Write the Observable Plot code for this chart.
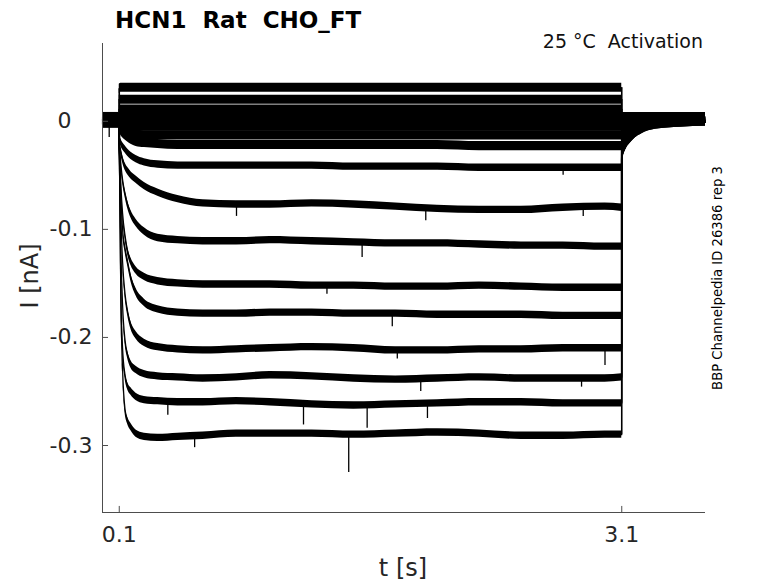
<!DOCTYPE html>
<html><head><meta charset="utf-8">
<script src="https://cdn.jsdelivr.net/npm/d3@7"></script>
<script src="https://cdn.jsdelivr.net/npm/@observablehq/plot@0.6"></script>
<style>html,body{margin:0;padding:0;background:#fff;overflow:hidden}</style>
</head><body><div id="chart"></div>
<script>
// ---------- data ----------
const traceNames = ["C1","C2","C3","C4","C5","C6","C7","L1","L2","L3","L4","L5","L6","L7","L8","L9"];

const holdTimes = [0, 0.1];
const holdCurrents = [0.003, 0.002, 0.004, 0.0, -0.002, 0.001, -0.001, 0.002, -0.003, 0.001, 0.0, 0.003, -0.002, 0.001, -0.001, 0.002];

const stepTimes = [0.1, 0.11, 0.12, 0.135, 0.15, 0.17, 0.2, 0.25, 0.33, 0.45, 0.6, 0.8, 1.0, 1.25, 1.5, 1.75, 2.0, 2.25, 2.5, 2.75, 3.0, 3.1];
const stepC1 = [0.030, 0.031, 0.031, 0.031, 0.031, 0.031, 0.031, 0.031, 0.031, 0.031, 0.031, 0.031, 0.031, 0.031, 0.031, 0.031, 0.031, 0.031, 0.031, 0.031, 0.031, 0.031];
const stepC2 = [0.020, 0.020, 0.020, 0.020, 0.020, 0.020, 0.020, 0.020, 0.020, 0.020, 0.020, 0.020, 0.020, 0.020, 0.020, 0.020, 0.020, 0.020, 0.020, 0.020, 0.020, 0.020];
const stepC3 = [0.011, 0.011, 0.011, 0.011, 0.011, 0.011, 0.011, 0.011, 0.011, 0.011, 0.011, 0.011, 0.011, 0.011, 0.011, 0.011, 0.011, 0.011, 0.011, 0.011, 0.011, 0.011];
const stepC4 = [0.003, 0.003, 0.003, 0.003, 0.003, 0.003, 0.003, 0.003, 0.003, 0.003, 0.003, 0.003, 0.003, 0.003, 0.003, 0.003, 0.003, 0.003, 0.003, 0.003, 0.003, 0.003];
const stepC5 = [-0.002, -0.003, -0.003, -0.004, -0.004, -0.005, -0.005, -0.005, -0.005, -0.005, -0.005, -0.005, -0.005, -0.005, -0.005, -0.005, -0.005, -0.005, -0.005, -0.005, -0.005, -0.005];
const stepC6 = [-0.004, -0.006, -0.007, -0.009, -0.010, -0.011, -0.012, -0.013, -0.013, -0.013, -0.013, -0.013, -0.013, -0.013, -0.013, -0.013, -0.013, -0.013, -0.013, -0.013, -0.013, -0.013];
const stepC7 = [-0.006, -0.009, -0.011, -0.013, -0.015, -0.017, -0.019, -0.020, -0.021, -0.022, -0.022, -0.022, -0.022, -0.022, -0.022, -0.022, -0.022, -0.023, -0.023, -0.023, -0.023, -0.023];
const stepL1 = [-0.015, -0.020, -0.023, -0.026, -0.029, -0.032, -0.035, -0.038, -0.040, -0.041, -0.041, -0.041, -0.041, -0.041, -0.042, -0.042, -0.042, -0.043, -0.043, -0.043, -0.043, -0.043];
const stepL2 = [-0.020, -0.028, -0.035, -0.042, -0.046, -0.050, -0.054, -0.060, -0.066, -0.072, -0.076, -0.077, -0.077, -0.076, -0.077, -0.079, -0.081, -0.082, -0.082, -0.080, -0.079, -0.080];
const stepL3 = [-0.022, -0.040, -0.054, -0.067, -0.077, -0.086, -0.094, -0.102, -0.108, -0.110, -0.111, -0.111, -0.110, -0.111, -0.112, -0.113, -0.113, -0.114, -0.115, -0.115, -0.116, -0.116];
const stepL4 = [-0.022, -0.060, -0.085, -0.106, -0.120, -0.130, -0.138, -0.144, -0.148, -0.150, -0.151, -0.151, -0.151, -0.152, -0.152, -0.153, -0.153, -0.152, -0.153, -0.154, -0.154, -0.154];
const stepL5 = [-0.022, -0.070, -0.100, -0.118, -0.130, -0.145, -0.158, -0.168, -0.174, -0.177, -0.178, -0.178, -0.177, -0.177, -0.178, -0.178, -0.179, -0.179, -0.179, -0.180, -0.180, -0.180];
const stepL6 = [-0.022, -0.090, -0.130, -0.160, -0.176, -0.189, -0.198, -0.205, -0.209, -0.211, -0.212, -0.211, -0.210, -0.209, -0.210, -0.212, -0.212, -0.211, -0.211, -0.210, -0.210, -0.210];
const stepL7 = [-0.022, -0.120, -0.170, -0.203, -0.216, -0.225, -0.230, -0.234, -0.236, -0.237, -0.238, -0.237, -0.235, -0.236, -0.238, -0.239, -0.238, -0.237, -0.238, -0.238, -0.238, -0.237];
const stepL8 = [-0.022, -0.160, -0.210, -0.235, -0.245, -0.250, -0.255, -0.258, -0.259, -0.260, -0.260, -0.259, -0.260, -0.262, -0.263, -0.262, -0.261, -0.260, -0.260, -0.261, -0.261, -0.261];
const stepL9 = [-0.022, -0.170, -0.230, -0.267, -0.277, -0.283, -0.289, -0.292, -0.293, -0.292, -0.291, -0.289, -0.289, -0.289, -0.290, -0.289, -0.288, -0.289, -0.291, -0.291, -0.290, -0.290];
const stepCurrents = [stepC1, stepC2, stepC3, stepC4, stepC5, stepC6, stepC7, stepL1, stepL2, stepL3, stepL4, stepL5, stepL6, stepL7, stepL8, stepL9];

const tailTimes = [3.1, 3.105, 3.115, 3.13, 3.15, 3.18, 3.22, 3.3, 3.45, 3.6];
const tailC1 = [0.004, 0.004, 0.004, 0.004, 0.004, 0.004, 0.004, 0.004, 0.004, 0.004];
const tailC2 = [0.003, 0.003, 0.003, 0.003, 0.003, 0.003, 0.003, 0.003, 0.003, 0.003];
const tailC3 = [0.002, 0.002, 0.002, 0.002, 0.002, 0.002, 0.002, 0.002, 0.002, 0.002];
const tailC4 = [0.001, 0.001, 0.001, 0.001, 0.001, 0.001, 0.001, 0.001, 0.001, 0.001];
const tailC5 = [0.000, 0.000, 0.000, 0.000, 0.000, 0.000, 0.000, 0.000, 0.000, 0.000];
const tailC6 = [-0.002, -0.001, -0.001, 0.000, 0.000, 0.000, 0.001, 0.001, 0.001, 0.001];
const tailC7 = [-0.004, -0.003, -0.002, -0.001, 0.000, 0.000, 0.000, 0.000, 0.000, 0.000];
const tailL1 = [-0.008, -0.007, -0.005, -0.004, -0.003, -0.002, -0.001, 0.000, 0.001, 0.001];
const tailL2 = [-0.014, -0.012, -0.010, -0.008, -0.006, -0.004, -0.002, -0.001, 0.000, 0.000];
const tailL3 = [-0.020, -0.018, -0.015, -0.012, -0.009, -0.006, -0.004, -0.002, 0.000, 0.001];
const tailL4 = [-0.025, -0.022, -0.019, -0.015, -0.012, -0.008, -0.005, -0.002, -0.001, 0.000];
const tailL5 = [-0.028, -0.025, -0.021, -0.017, -0.013, -0.009, -0.006, -0.003, -0.001, 0.000];
const tailL6 = [-0.031, -0.027, -0.023, -0.019, -0.015, -0.010, -0.007, -0.003, -0.001, 0.000];
const tailL7 = [-0.033, -0.029, -0.025, -0.020, -0.016, -0.011, -0.007, -0.003, -0.001, -0.001];
const tailL8 = [-0.034, -0.030, -0.026, -0.021, -0.017, -0.012, -0.008, -0.004, -0.002, -0.001];
const tailL9 = [-0.035, -0.031, -0.026, -0.021, -0.017, -0.012, -0.008, -0.004, -0.002, -0.001];
const tailCurrents = [tailC1, tailC2, tailC3, tailC4, tailC5, tailC6, tailC7, tailL1, tailL2, tailL3, tailL4, tailL5, tailL6, tailL7, tailL8, tailL9];

// brief noise spikes visible in the picture (time, level, spike end)
const spikeTimes   = [0.04,   0.55,   1.47,   1.20,   1.58,   0.39,   1.94,   1.90,   2.86,   3.00,   1.76,   1.73,   1.34,   1.55,   1.93,   0.80,   2.87,   2.75];
const spikeLevels  = [0.000, -0.292, -0.290, -0.262, -0.263, -0.259, -0.261, -0.238, -0.238, -0.210, -0.212, -0.178, -0.152, -0.112, -0.081, -0.077, -0.080, -0.043];
const spikeEnds    = [-0.015, -0.302, -0.325, -0.281, -0.284, -0.272, -0.275, -0.250, -0.246, -0.226, -0.220, -0.190, -0.160, -0.126, -0.092, -0.088, -0.088, -0.050];

const xTicks = [0.1, 3.1];
const xTickLabels = ["0.1", "3.1"];
const yTicks = [0, -0.1, -0.2, -0.3];
const yTickLabels = ["0", "-0.1", "-0.2", "-0.3"];

const titleText = "HCN1  Rat  CHO_FT";
const conditionText = "25 °C  Activation";
const sourceText = "BBP Channelpedia ID 26386 rep 3";
const xLabel = "t [s]";
const yLabel = "I [nA]";

// ---------- build tables ----------
const xDomain = [0, 3.6];
const yDomain = [-0.362, 0.072];
const bandSmall = 0.0042; // half thickness of the noise band, near-zero traces
const bandLarge = 0.0034; // half thickness of the noise band, activated traces

const rows = [];
const jumps = [];
traceNames.forEach((name, i) => {
  const band = name[0] === "C" ? bandSmall : bandLarge;
  holdTimes.forEach((t) => rows.push({key: name + "h", t, v: holdCurrents[i], band}));
  stepTimes.forEach((t, j) => rows.push({key: name + "s", t, v: stepCurrents[i][j], band}));
  tailTimes.forEach((t, j) => rows.push({key: name + "t", t, v: tailCurrents[i][j], band}));
  jumps.push({t: stepTimes[0], a: holdCurrents[i], b: stepCurrents[i][0]});
  jumps.push({t: stepTimes[stepTimes.length - 1], a: stepCurrents[i][stepTimes.length - 1], b: tailCurrents[i][0]});
});
const spikes = spikeTimes.map((t, i) => ({t, a: spikeLevels[i], b: spikeEnds[i]}));
const xt = xTicks.map((t, i) => ({t, label: xTickLabels[i]}));
const yt = yTicks.map((v, i) => ({v, label: yTickLabels[i]}));

const axisColor = "#4d4d4d";
const textColor = "#262626";

const chart = Plot.plot({
  width: 778,
  height: 583,
  marginLeft: 102,
  marginRight: 73,
  marginTop: 43,
  marginBottom: 71,
  x: {domain: xDomain, axis: null},
  y: {domain: yDomain, axis: null},
  style: {fontFamily: "DejaVu Sans, sans-serif", background: "#fff"},
  marks: [
    Plot.areaY(rows, {x: "t", y1: d => d.v - d.band, y2: d => d.v + d.band, z: "key", fill: "#000", curve: "monotone-x"}),
    Plot.line(rows, {x: "t", y: "v", z: "key", stroke: "#000", strokeWidth: 1.2, curve: "monotone-x"}),
    Plot.ruleX(jumps, {x: "t", y1: "a", y2: "b", stroke: "#000", strokeWidth: 1.6}),
    Plot.ruleX(spikes, {x: "t", y1: "a", y2: "b", stroke: "#000", strokeWidth: 1.3}),
    // axis lines
    Plot.ruleX([xDomain[0]], {stroke: axisColor, strokeWidth: 1}),
    Plot.ruleY([yDomain[0]], {stroke: axisColor, strokeWidth: 1}),
    // inward ticks
    Plot.ruleY(yTicks, {x1: xDomain[0], x2: xDomain[0] + 0.036, stroke: axisColor, strokeWidth: 1}),
    Plot.ruleX(xTicks, {y1: yDomain[0], y2: yDomain[0] + 0.0056, stroke: axisColor, strokeWidth: 1}),
    // tick labels
    Plot.text(yt.filter(d => d.v !== 0), {x: xDomain[0], y: "v", text: "label", textAnchor: "end", dx: -10, fontSize: 22, fill: textColor}),
    Plot.text(yt.filter(d => d.v === 0), {x: xDomain[0], y: "v", text: "label", textAnchor: "end", dx: -31, fontSize: 22, fill: textColor}),
    Plot.text(xt, {x: "t", y: yDomain[0], text: "label", lineAnchor: "top", dy: 14, fontSize: 22, fill: textColor})
  ]
});

document.getElementById("chart").appendChild(chart);

const svg = d3.select(chart);
svg.append("text").attr("x", 115).attr("y", 28).attr("font-size", 23).attr("font-weight", "bold").attr("text-anchor", "start")
  .attr("font-family", "DejaVu Sans, sans-serif").attr("fill", "#000").style("white-space", "pre").text(titleText);
svg.append("text").attr("x", 703).attr("y", 48).attr("font-size", 19).attr("text-anchor", "end")
  .attr("font-family", "DejaVu Sans, sans-serif").attr("fill", "#111").style("white-space", "pre").text(conditionText);
svg.append("text").attr("transform", "translate(722,278) rotate(-90)").attr("font-size", 13.2).attr("text-anchor", "middle")
  .attr("font-family", "DejaVu Sans, sans-serif").attr("fill", "#000").text(sourceText);
svg.append("text").attr("transform", "translate(38,276) rotate(-90)").attr("font-size", 24).attr("text-anchor", "middle")
  .attr("font-family", "DejaVu Sans, sans-serif").attr("fill", textColor).text(yLabel);
svg.append("text").attr("x", 403).attr("y", 576).attr("font-size", 24).attr("text-anchor", "middle")
  .attr("font-family", "DejaVu Sans, sans-serif").attr("fill", textColor).text(xLabel);
</script>
</body></html>
